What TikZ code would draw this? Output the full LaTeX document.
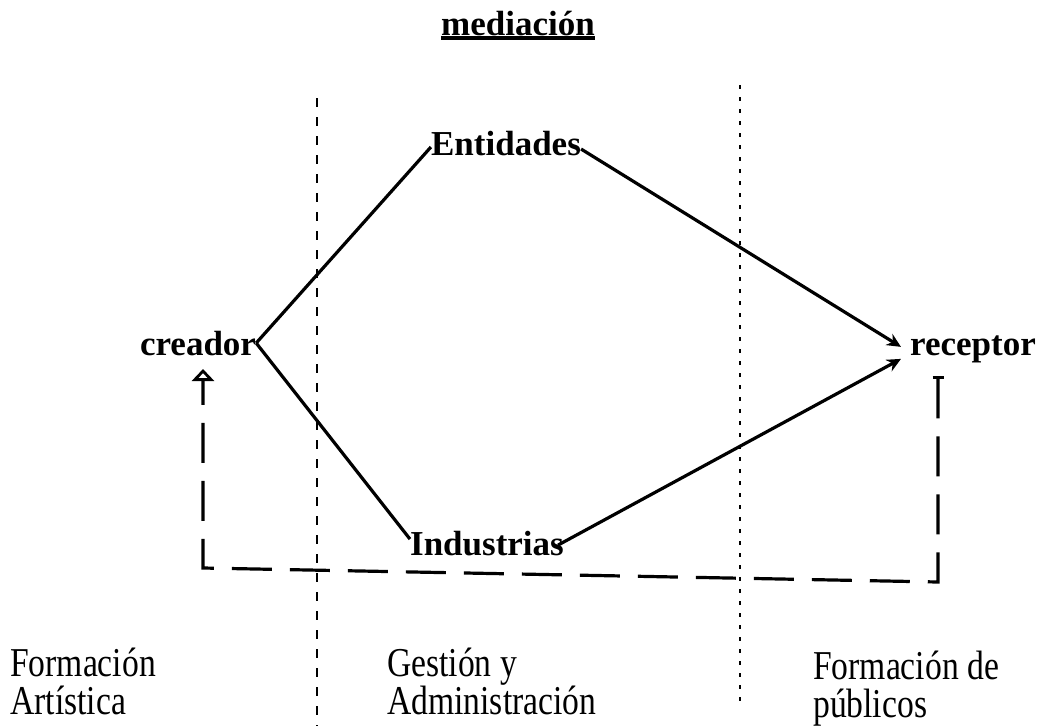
\documentclass[tikz,border=0pt]{standalone}
\usepackage{fontspec}
\setmainfont{Liberation Serif}
\newfontfamily\condserif[FakeStretch=0.82]{Liberation Serif}
\usetikzlibrary{arrows.meta}
\begin{document}
\begin{tikzpicture}[x=1pt,y=-1pt,
  lbl/.style={font=\fontsize{35}{40}\selectfont\bfseries, inner sep=0pt, anchor=base},
  zone/.style={font=\condserif\fontsize{41}{38}\selectfont, inner sep=0pt, anchor=north west, align=left},
  flow/.style={line width=3.2pt},
  flowarrow/.style={flow, -{Stealth[length=14pt,width=13pt]}},
  feedback/.style={line width=3.2pt, dash pattern=on 40pt off 18pt},
  divider/.style={line width=2.6pt, dash pattern=on 9pt off 10pt},
  dotdivider/.style={line width=2.6pt, dash pattern=on 4pt off 8pt}
]
\useasboundingbox (0,0) rectangle (1044,726);

% title
\node[lbl] (med) at (518,35) {mediación};
\draw[line width=3.5pt] ([yshift=-3pt]med.base west) -- ([yshift=-3pt]med.base east);

% zone dividers
\coordinate (d1top) at (317,98);
\coordinate (d1bot) at (317,726);
\coordinate (d2top) at (740,85);
\coordinate (d2bot) at (740,705);
\draw[divider] (d1top) -- (d1bot);
\draw[dotdivider] (d2top) -- (d2bot);

% main nodes
\node[lbl] (creador) at (198,355) {creador};
\node[lbl] (receptor) at (973,355) {receptor};
\node[lbl] (entidades) at (506,155) {Entidades};
\node[lbl] (industrias) at (487,555) {Industrias};

% connectors
\draw[flow] (creador.east) -- ([yshift=-4pt]entidades.west);
\draw[flow] (creador.east) -- ([yshift=4pt]industrias.west);
\draw[flowarrow] ([yshift=-6pt]entidades.east) -- ([xshift=-9pt,yshift=2pt]receptor.west);
\draw[flowarrow] ([xshift=-6pt,yshift=-2pt]industrias.east) -- ([xshift=-9pt,yshift=-10pt]receptor.west);

% feedback loop
\coordinate (fbstart) at (938,376);
\coordinate (fbright) at (938,582);
\coordinate (fbleft) at (203,568);
\coordinate (fbend) at (203,369);
\draw[feedback, {Bar[width=11pt,line width=3pt]}-{Triangle[open,width=22pt,length=12pt,line width=2.8pt]}]
  (fbstart) -- (fbright) -- (fbleft) -- (fbend);

% zone labels
\node[zone] (z1) at (10,648) {Formación\\Artística};
\node[zone] (z2) at (387,648) {Gestión y\\Administración};
\node[zone] (z3) at (813,651) {Formación de\\públicos};
\end{tikzpicture}
\end{document}
